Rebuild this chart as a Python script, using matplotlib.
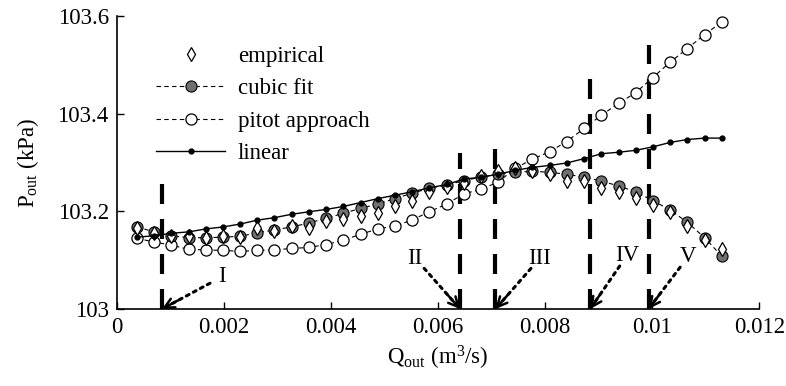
# Outlet pressure vs outlet flow: empirical data, cubic fit, pitot approach, linear model
import matplotlib
matplotlib.use("Agg")
import matplotlib.pyplot as plt
from matplotlib.ticker import FuncFormatter

# ---- data ----
Q = [0.00037, 0.00069, 0.00101, 0.00134, 0.00166, 0.00198, 0.00230, 0.00262,
     0.00294, 0.00326, 0.00358, 0.00391, 0.00423, 0.00455, 0.00487, 0.00519,
     0.00551, 0.00583, 0.00616, 0.00648, 0.00680, 0.00712, 0.00744, 0.00776,
     0.00808, 0.00840, 0.00873, 0.00905, 0.00937, 0.00969, 0.01001, 0.01033,
     0.01065, 0.01098, 0.01130]

P_empirical = [103.165, 103.155, 103.150, 103.150, 103.145, 103.150, 103.148, 103.165,
               103.160, 103.170, 103.165, 103.180, 103.185, 103.190, 103.197, 103.210,
               103.222, 103.240, 103.250, 103.258, 103.272, 103.282, 103.288, 103.283,
               103.276, 103.262, 103.262, 103.248, 103.240, 103.228, 103.212, 103.198,
               103.170, 103.142, 103.122]

P_cubic = [103.168, 103.158, 103.150, 103.146, 103.146, 103.147, 103.149, 103.156,
           103.162, 103.168, 103.176, 103.186, 103.196, 103.206, 103.215, 103.226,
           103.237, 103.247, 103.254, 103.263, 103.270, 103.276, 103.280, 103.282,
           103.280, 103.276, 103.270, 103.262, 103.252, 103.240, 103.222, 103.203,
           103.178, 103.146, 103.108]

P_pitot = [103.145, 103.137, 103.131, 103.122, 103.121, 103.120, 103.118, 103.120,
           103.121, 103.124, 103.126, 103.132, 103.141, 103.153, 103.164, 103.170,
           103.182, 103.199, 103.215, 103.236, 103.245, 103.260, 103.288, 103.307,
           103.322, 103.343, 103.370, 103.397, 103.421, 103.443, 103.474, 103.505,
           103.533, 103.562, 103.588]

P_linear = [103.147, 103.150, 103.155, 103.158, 103.164, 103.168, 103.174, 103.182,
            103.187, 103.194, 103.199, 103.204, 103.210, 103.218, 103.226, 103.233,
            103.240, 103.248, 103.255, 103.266, 103.270, 103.276, 103.284, 103.290,
            103.294, 103.299, 103.308, 103.318, 103.321, 103.325, 103.332, 103.341,
            103.347, 103.350, 103.350]

# operating points I..V (vertical dashed lines)
op_names = ["I", "II", "III", "IV", "V"]
op_q = [0.00084, 0.00641, 0.00707, 0.00884, 0.00993]
op_top = [103.26, 103.32, 103.33, 103.47, 103.54]
# label centre (data units) for each operating point
op_label_q = [0.00196, 0.00557, 0.00790, 0.00953, 0.01067]
op_label_p = [103.066, 103.104, 103.104, 103.110, 103.107]

X_TICKS = [0, 0.002, 0.004, 0.006, 0.008, 0.010, 0.012]
Y_TICKS = [103, 103.2, 103.4, 103.6]

# ---- style ----
plt.rcParams["font.family"] = ["Liberation Serif", "DejaVu Serif"]
plt.rcParams["mathtext.fontset"] = "custom"
plt.rcParams["mathtext.rm"] = "Liberation Serif"
plt.rcParams["mathtext.it"] = "Liberation Serif:italic"
FS = 16.5
GRAY = "#707070"


def main():
    fig = plt.figure(figsize=(7.86, 3.86), dpi=100)
    ax = fig.add_axes([0.149, 0.1995, 0.817, 0.759])

    # operating-point lines
    for q, top in zip(op_q, op_top):
        ax.plot([q, q], [103.0, top], color="black", lw=3.0,
                linestyle=(0, (4.8, 3.6)), solid_capstyle="butt", zorder=1)

    ax.plot(Q, P_pitot, linestyle=(0, (4, 3)), color="black", lw=0.8, marker="o",
            markersize=8, markerfacecolor="white", markeredgecolor="black",
            markeredgewidth=0.9, label="pitot approach", zorder=2)
    ax.plot(Q, P_cubic, linestyle=(0, (4, 3)), color="black", lw=0.8, marker="o",
            markersize=8, markerfacecolor=GRAY, markeredgecolor="black",
            markeredgewidth=0.8, label="cubic fit", zorder=3)
    ax.plot(Q, P_empirical, linestyle="none", marker="d", markersize=7.5,
            markerfacecolor="white", markeredgecolor="black",
            markeredgewidth=0.9, label="empirical", zorder=3.5)
    ax.plot(Q, P_linear, linestyle="-", color="black", lw=1.0, marker="o",
            markersize=3.5, markerfacecolor="black", markeredgecolor="black",
            label="linear", zorder=4)

    # labels with dotted arrows pointing at the bottom of each dashed line
    for name, q, lq, lp in zip(op_names, op_q, op_label_q, op_label_p):
        ax.text(lq, lp, name, fontsize=FS, ha="center", va="center")
        tail = (lq + (q - lq) * 0.2, lp + (103.0 - lp) * 0.2)
        ax.annotate("", xy=(q, 103.0), xytext=tail,
                    arrowprops=dict(arrowstyle="-", linestyle=(0, (1, 1.6)), lw=2.2,
                                    color="black", shrinkA=0, shrinkB=0))
        mid = (q + (tail[0] - q) * 0.4, 103.0 + (tail[1] - 103.0) * 0.4)
        ax.annotate("", xy=(q, 103.0), xytext=mid,
                    arrowprops=dict(arrowstyle="->,head_length=0.7,head_width=0.35",
                                    lw=1.8, color="black", shrinkA=0, shrinkB=0))

    ax.set_xlim(0, 0.012)
    ax.set_ylim(103, 103.6)
    ax.set_xticks(X_TICKS)
    ax.set_yticks(Y_TICKS)
    fmt = FuncFormatter(lambda v, pos: f"{v:g}")
    ax.xaxis.set_major_formatter(fmt)
    ax.yaxis.set_major_formatter(fmt)
    ax.tick_params(direction="in", length=5, width=1, labelsize=FS, pad=6)

    ax.spines["top"].set_visible(False)
    ax.spines["right"].set_visible(False)
    ax.spines["left"].set_linewidth(1.2)
    ax.spines["bottom"].set_linewidth(1.2)

    ax.set_xlabel(r"Q$_{\rm out}$ (m$^{3}$/s)", fontsize=FS, labelpad=4)
    ax.set_ylabel(r"P$_{\rm out}$ (kPa)", fontsize=FS, labelpad=12)

    handles, labels = ax.get_legend_handles_labels()
    order = [labels.index(n) for n in ["empirical", "cubic fit", "pitot approach", "linear"]]
    ax.legend([handles[i] for i in order], [labels[i] for i in order],
              loc="upper left", bbox_to_anchor=(0.047, 0.93), frameon=False,
              fontsize=FS, handlelength=3.0, handletextpad=0.55,
              labelspacing=0.5, borderaxespad=0.0)

    fig.savefig("out.png", dpi=100)


if __name__ == "__main__":
    main()
